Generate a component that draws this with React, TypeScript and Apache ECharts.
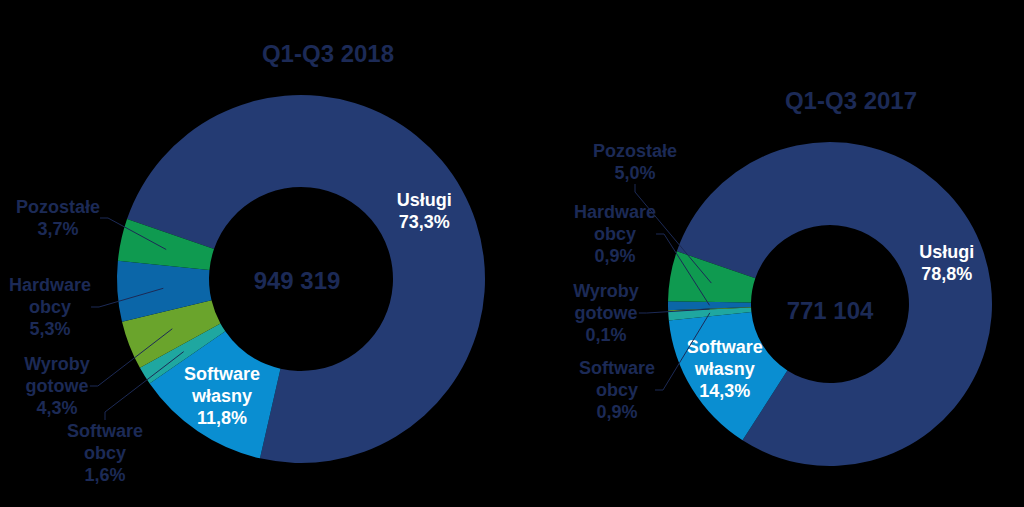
import React, { useEffect, useRef } from 'react';
import * as echarts from 'echarts';

// Segments in clockwise order
const categories = ['Usługi', 'Software własny', 'Software obcy', 'Wyroby gotowe', 'Hardware obcy', 'Pozostałe'];
const share2018 = [73.3, 11.8, 1.6, 4.3, 5.3, 3.7];
const share2017 = [78.8, 14.3, 0.9, 0.1, 0.9, 5.0];
const periods = ['Q1-Q3 2018', 'Q1-Q3 2017'];
const totals = [949319, 771104];
const insideLabels = ['Usługi', 'Software własny'];

const colors = ['#243B73', '#0A8ED1', '#1FA7A0', '#6AA42C', '#0B66A8', '#0F9A50'];
const DARK = '#1C2A56';
const FONT = '"Liberation Sans", Arial, sans-serif';

const pct = (v: number) => v.toFixed(1).replace('.', ',') + '%';
const fmtTotal = (n: number) => String(n).replace(/\B(?=(\d{3})+(?!\d))/g, ' ');

const donuts = [
  {
    values: share2018,
    center: [301, 279],
    radius: [92, 184],
    titlePos: [328, 53],
    totalPos: [297, 280],
    labelPos: [null, null, [105, 453], [57, 386], [50, 307], [58, 218]] as (number[] | null)[],
  },
  {
    values: share2017,
    center: [830, 304],
    radius: [79, 162],
    titlePos: [851, 100],
    totalPos: [830, 310],
    labelPos: [null, null, [617, 390], [606, 313], [615, 234], [635, 162]] as (number[] | null)[],
  },
];

export default function App() {
  const ref = useRef<HTMLDivElement>(null);

  useEffect(() => {
    document.body.style.margin = '0';
    document.body.style.background = '#000';
    if (!ref.current) return;
    const chart = echarts.init(ref.current, undefined, { renderer: 'svg' });

    const series: any[] = [];
    const graphics: any[] = [];

    donuts.forEach((d, k) => {
      const mid = (d.radius[0] + d.radius[1]) / 2;
      series.push({
        type: 'pie',
        center: d.center,
        radius: d.radius,
        startAngle: 161,
        clockwise: true,
        avoidLabelOverlap: false,
        silent: true,
        itemStyle: { borderWidth: 0 },
        label: {
          position: 'inside',
          color: '#FFFFFF',
          fontWeight: 'bold',
          fontSize: 18,
          lineHeight: 22,
          fontFamily: FONT,
          formatter: (p: any) => p.name.replace(' ', '\n') + '\n' + pct(p.value),
        },
        labelLine: { show: false },
        data: categories.map((c, i) => ({
          name: c,
          value: d.values[i],
          itemStyle: { color: colors[i] },
          label: { show: insideLabels.includes(c) },
        })),
      });
      series.push({
        type: 'pie',
        center: d.center,
        radius: [0, mid],
        startAngle: 161,
        clockwise: true,
        avoidLabelOverlap: false,
        silent: true,
        z: 5,
        itemStyle: { color: 'rgba(0,0,0,0)', borderWidth: 0 },
        label: {
          position: 'outside',
          color: DARK,
          fontWeight: 'bold',
          fontSize: 18,
          lineHeight: 22,
          fontFamily: FONT,
          align: 'center',
          formatter: (p: any) => p.name.replace(' ', '\n') + '\n' + pct(p.value),
        },
        labelLine: { show: true, length: 10, length2: 8, smooth: false, lineStyle: { color: DARK, width: 1 } },
        labelLayout: (p: any) => {
          const pos = d.labelPos[p.dataIndex];
          return pos ? { x: pos[0], y: pos[1], align: 'center', verticalAlign: 'middle' } : {};
        },
        data: categories.map((c, i) => ({
          name: c,
          value: d.values[i],
          itemStyle: { color: 'rgba(0,0,0,0)' },
          label: { show: !insideLabels.includes(c) },
          labelLine: { show: !insideLabels.includes(c) },
        })),
      });
      graphics.push({
        type: 'text',
        x: d.titlePos[0],
        y: d.titlePos[1],
        style: {
          text: periods[k],
          fill: DARK,
          font: `bold 24px ${FONT}`,
          align: 'center',
          verticalAlign: 'middle',
        },
      });
      graphics.push({
        type: 'text',
        x: d.totalPos[0],
        y: d.totalPos[1],
        z: 10,
        style: {
          text: fmtTotal(totals[k]),
          fill: DARK,
          font: `bold 24px ${FONT}`,
          align: 'center',
          verticalAlign: 'middle',
        },
      });
    });

    chart.setOption({
      animation: false,
      backgroundColor: '#000000',
      series,
      graphic: graphics,
    });

    return () => chart.dispose();
  }, []);

  return <div ref={ref} style={{ width: 1024, height: 507 }} />;
}
